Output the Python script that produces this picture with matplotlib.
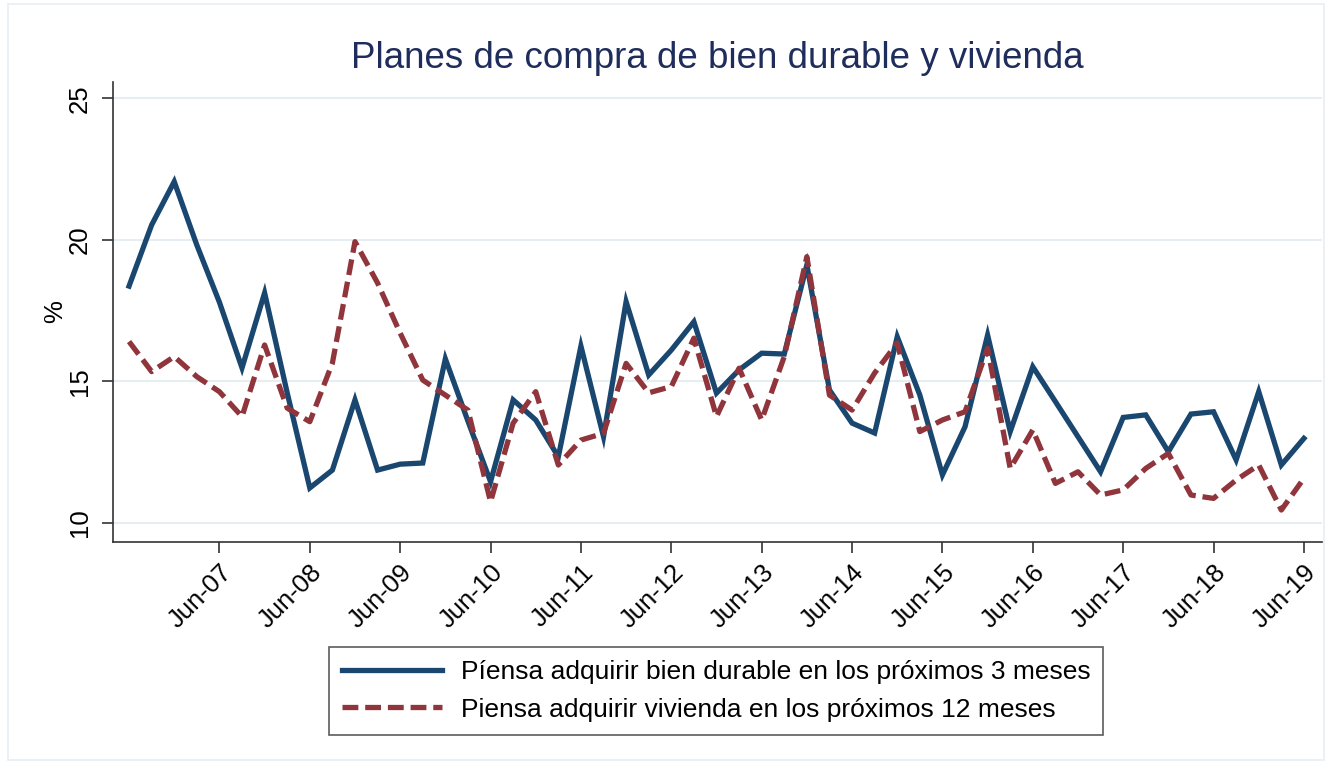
import matplotlib
matplotlib.use("Agg")
import matplotlib.pyplot as plt
from matplotlib.patches import Rectangle

plt.rcParams['font.family'] = ['Liberation Sans', 'DejaVu Sans']

# Quarterly series, Jun-06 .. Jun-19
quarters = ['Jun-06', 'Sep-06', 'Dec-06', 'Mar-07', 'Jun-07', 'Sep-07', 'Dec-07', 'Mar-08',
            'Jun-08', 'Sep-08', 'Dec-08', 'Mar-09', 'Jun-09', 'Sep-09', 'Dec-09', 'Mar-10',
            'Jun-10', 'Sep-10', 'Dec-10', 'Mar-11', 'Jun-11', 'Sep-11', 'Dec-11', 'Mar-12',
            'Jun-12', 'Sep-12', 'Dec-12', 'Mar-13', 'Jun-13', 'Sep-13', 'Dec-13', 'Mar-14',
            'Jun-14', 'Sep-14', 'Dec-14', 'Mar-15', 'Jun-15', 'Sep-15', 'Dec-15', 'Mar-16',
            'Jun-16', 'Sep-16', 'Dec-16', 'Mar-17', 'Jun-17', 'Sep-17', 'Dec-17', 'Mar-18',
            'Jun-18', 'Sep-18', 'Dec-18', 'Mar-19', 'Jun-19']

bien_durable = [18.37, 20.53, 22.06, 19.82, 17.8, 15.48, 18.13, 14.6,
                11.24, 11.87, 14.35, 11.87, 12.08, 12.12, 15.8, 13.6,
                11.46, 14.35, 13.64, 12.34, 16.25, 13.05, 17.82, 15.23,
                16.11, 17.11, 14.59, 15.41, 16.0, 15.97, 19.12, 14.7,
                13.53, 13.18, 16.58, 14.52, 11.7, 13.4, 16.64, 13.23,
                15.52, 14.29, 13.05, 11.81, 13.73, 13.82, 12.52, 13.85,
                13.93, 12.23, 14.64, 12.05, 12.99]

vivienda = [16.41, 15.35, 15.88, 15.17, 14.64, 13.76, 16.29, 14.06,
            13.58, 15.65, 19.94, 18.48, 16.71, 15.05, 14.52, 13.99,
            10.75, 13.53, 14.64, 12.05, 12.93, 13.17, 15.64, 14.6,
            14.82, 16.53, 13.76, 15.47, 13.64, 15.88, 19.41, 14.52,
            13.99, 15.3, 16.36, 13.23, 13.64, 13.93, 16.17, 11.93,
            13.29, 11.4, 11.81, 10.99, 11.17, 11.93, 12.46, 10.99,
            10.87, 11.52, 12.05, 10.46, 11.58]

tick_labels = ['Jun-07', 'Jun-08', 'Jun-09', 'Jun-10', 'Jun-11', 'Jun-12', 'Jun-13',
               'Jun-14', 'Jun-15', 'Jun-16', 'Jun-17', 'Jun-18', 'Jun-19']
y_ticks = [10, 15, 20, 25]

title = 'Planes de compra de bien durable y vivienda'
label_durable = 'Píensa adquirir bien durable en los próximos 3 meses'
label_vivienda = 'Piensa adquirir vivienda en los próximos 12 meses'

W, H = 1332, 764
fig = plt.figure(figsize=(W / 100, H / 100), dpi=100)
fig.patch.set_facecolor('white')

# outer graph-region frame
fig.add_artist(Rectangle((8 / W, 4 / H), (W - 16) / W, (H - 8) / H,
                         transform=fig.transFigure, fill=False,
                         edgecolor='#e6eef1', linewidth=1.2))

left, right, top, bottom = 113, 1322, 82, 542
ax = fig.add_axes([left / W, 1 - bottom / H, (right - left) / W, (bottom - top) / H])

x = list(range(len(quarters)))
blue = '#1a476f'
red = '#90353b'

ax.plot(x, bien_durable, color=blue, lw=3.8, solid_joinstyle='miter',
        label=label_durable, zorder=3)
ax.plot(x, vivienda, color=red, lw=3.8, dashes=(3.0, 1.3),
        label=label_vivienda, zorder=3)

ax.set_xlim(-0.71, 52.8)
ax.set_ylim(9.33, 25.58)

tick_pos = [quarters.index(t) for t in tick_labels]
ax.set_xticks(tick_pos)
ax.set_xticklabels(tick_labels, rotation=45, ha='right', rotation_mode='anchor',
                   fontsize=18.5)
ax.set_yticks(y_ticks)
ax.set_yticklabels([str(v) for v in y_ticks], rotation=90, va='center', fontsize=18.5)

ax.tick_params(axis='both', direction='out', length=8, width=1.2, color='#333333',
               pad=5)
ax.tick_params(axis='y', pad=7)

ax.grid(axis='y', color='#e6eef1', linewidth=1.5, zorder=0)
ax.set_axisbelow(True)

for s in ['top', 'right']:
    ax.spines[s].set_visible(False)
for s in ['left', 'bottom']:
    ax.spines[s].set_color('#333333')
    ax.spines[s].set_linewidth(1.2)

ax.set_ylabel('%', fontsize=18.5, labelpad=1)

fig.text((left + right) / 2 / W, 1 - 58 / H, title, ha='center', va='center',
         fontsize=26.5, color='#1f2d5c')

leg = fig.legend(loc='center', bbox_to_anchor=(716 / W, 1 - 691 / H), ncol=1,
                 frameon=True, fancybox=False, fontsize=19, handlelength=3.8,
                 handletextpad=0.7, borderpad=0.5, labelspacing=0.5,
                 borderaxespad=0, edgecolor='#333333')
leg.get_frame().set_linewidth(1.2)

fig.savefig('out.png', dpi=100, facecolor='white')
